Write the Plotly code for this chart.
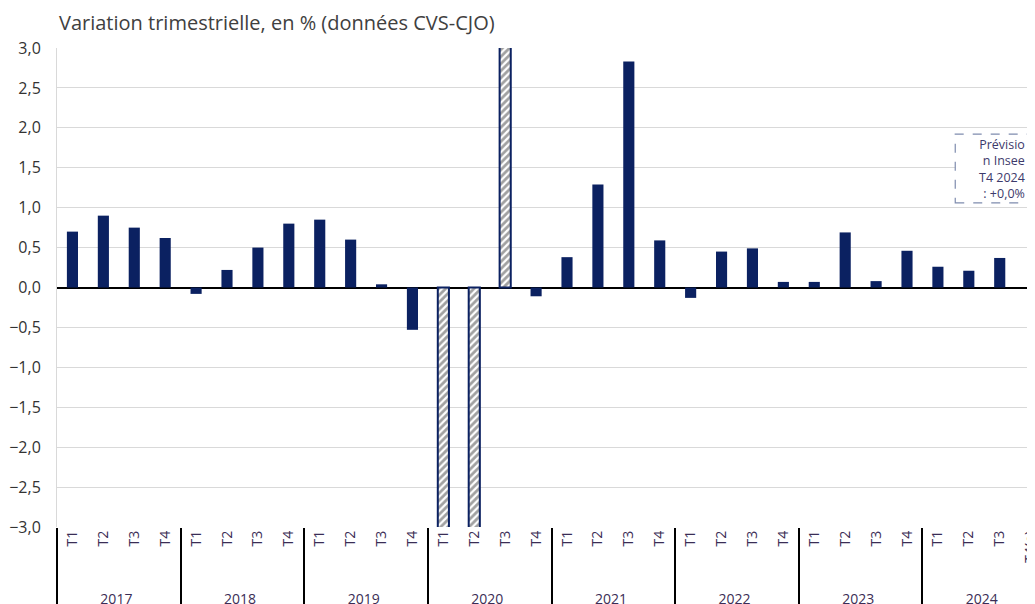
import plotly.graph_objects as go

# Variation trimestrielle du PIB, en % (CVS-CJO)
years = ["2017"] * 4 + ["2018"] * 4 + ["2019"] * 4 + ["2020"] * 4 + \
        ["2021"] * 4 + ["2022"] * 4 + ["2023"] * 4 + ["2024"] * 4
quarters = ["T1", "T2", "T3", "T4"] * 7 + ["T1", "T2", "T3", "T4(e)"]
values = [0.70, 0.90, 0.75, 0.62,
          -0.08, 0.22, 0.50, 0.80,
          0.85, 0.60, 0.04, -0.53,
          -5.6, -13.5, 18.6, -0.11,
          0.38, 1.29, 2.83, 0.59,
          -0.13, 0.45, 0.49, 0.07,
          0.07, 0.69, 0.08, 0.46,
          0.26, 0.21, 0.37, 0.0]
# bars out of scale (covid quarters) are drawn hatched
hatched = ["2020-T1", "2020-T2", "2020-T3"]

note = "Prévisio<br>n Insee<br>T4 2024<br> : +0,0%"

navy = "#0b2161"
keys = [y + "-" + q for y, q in zip(years, quarters)]
shapes = ["/" if k in hatched else "" for k in keys]
fill = ["white" if k in hatched else navy for k in keys]
lw = [2 if k in hatched else 0 for k in keys]
# leading no-break spaces push the year row further down
qlabels = ["\u00a0" * 4 + q for q in quarters]

fig = go.Figure()
fig.add_trace(go.Bar(
    x=[years, qlabels],
    y=values,
    width=0.36,
    marker=dict(
        color=fill,
        line=dict(color=navy, width=lw),
        pattern=dict(shape=shapes, fgcolor=navy, bgcolor="white", size=5, solidity=0.55),
    ),
    showlegend=False,
))

font = "Open Sans, Lato, sans-serif"
# the page has an 8px body margin, so the margins are 8px smaller
fig.update_layout(
    width=1035, height=604,
    margin=dict(l=49, r=0, t=40, b=85, autoexpand=False),
    plot_bgcolor="white", paper_bgcolor="white",
    separators=", ",
    font=dict(family=font, color="#333333"),
)
fig.update_yaxes(
    range=[-3, 3], dtick=0.5, tickformat=".1f",
    showgrid=True, gridcolor="#d9d9d9", gridwidth=1,
    zeroline=True, zerolinecolor="black", zerolinewidth=2,
    showline=True, linecolor="#d9d9d9", linewidth=1,
    tickfont=dict(size=16, color="#333333"), ticks="",
    ticklabelstandoff=12, automargin=False,
)
fig.update_xaxes(
    type="multicategory",
    range=[-0.5, 31.4],
    tickangle=-90,
    tickfont=dict(size=14, color="#3a2d55"),
    ticklabeloverflow="allow",
    showdividers=True, dividercolor="black", dividerwidth=2,
    showgrid=False, showline=False, automargin=False,
)

fig.add_annotation(
    xref="paper", yref="paper", x=0, y=1.0, yshift=26,
    xanchor="left", yanchor="middle",
    text="Variation trimestrielle, en % (données CVS-CJO)",
    showarrow=False, font=dict(size=20, color="#404040"),
)
fig.add_shape(
    type="rect", xref="paper", yref="y",
    x0=0.911, x1=0.99, y0=1.06, y1=1.92,
    line=dict(color="#7f8cae", width=1.2, dash="dash"),
    fillcolor="white", layer="above",
)
fig.add_annotation(
    xref="paper", yref="y", x=0.983, y=1.49, xanchor="right", yanchor="middle",
    text=note, align="right", showarrow=False, borderpad=0,
    font=dict(size=12.5, color="#3d3a6b"),
)

fig.write_html("out.html")
